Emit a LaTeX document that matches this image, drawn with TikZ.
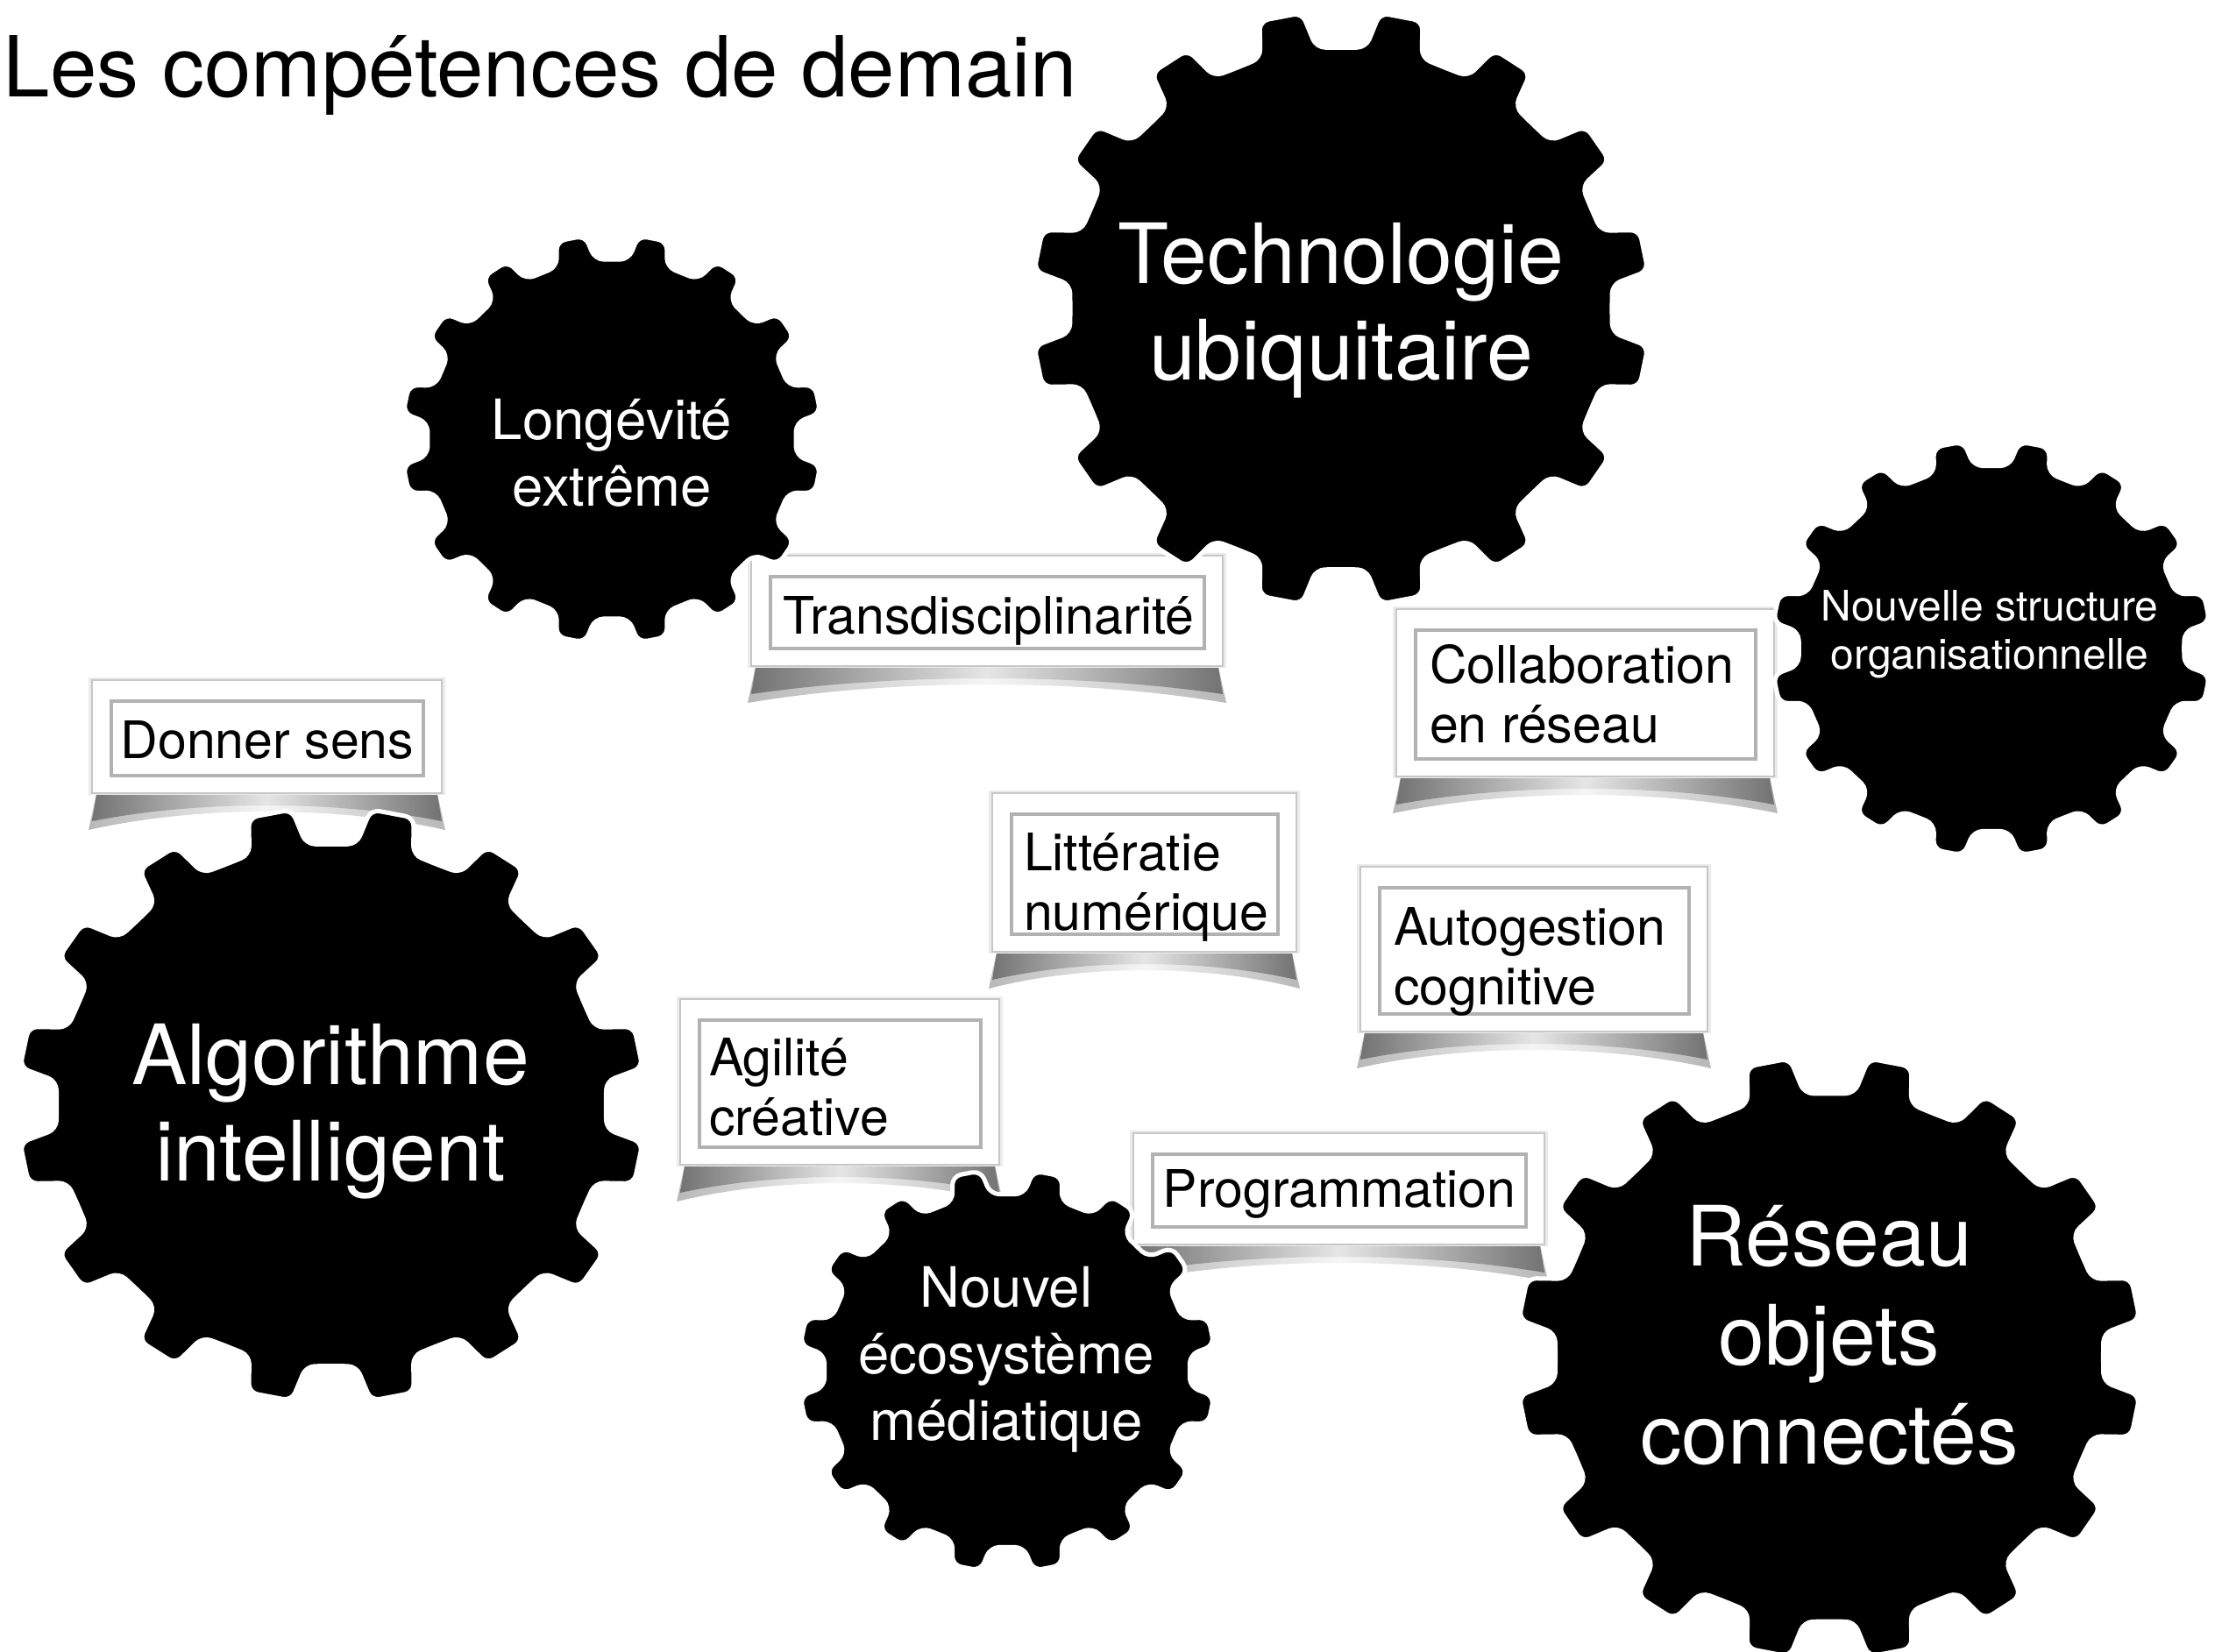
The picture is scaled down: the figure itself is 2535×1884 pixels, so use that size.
\documentclass[tikz,border=0pt]{standalone}
\usepackage{fontspec}
\setmainfont{TeX Gyre Heros}
\newcommand\skillbox[4]{%
  \shade[left color=black!28, right color=black!28, middle color=black!4]
    ({#1+6},{#4-4}) -- ({#1-4},{#4+42}) .. controls ({#1+0.3*(#3-#1)},{#4+14}) and ({#3-0.3*(#3-#1)},{#4+14}) .. ({#3+4},{#4+42}) -- ({#3-6},{#4-4}) -- cycle;
  \shade[left color=black!55, right color=black!55, middle color=black!10]
    ({#1+6},{#4-4}) -- ({#1},{#4+32}) .. controls ({#1+0.3*(#3-#1)},{#4+8}) and ({#3-0.3*(#3-#1)},{#4+8}) .. ({#3},{#4+32}) -- ({#3-6},{#4-4}) -- cycle;
  \fill[black!8] ({#1-4},{#2-3}) rectangle ({#3+4},{#4+2});
  \filldraw[fill=white, draw=black!22, line width=0.5pt] (#1,#2) rectangle (#3,#4);
  \draw[black!30, line width=0.9pt] ({#1+22},{#2+24}) rectangle ({#3-21},{#4-20});
}
\newcommand\drawgear[4]{%
  \fill[gearbody, shift={(#1,#2)}, xscale=#3, yscale=#4]
    (7.25:1) -- (15.25:1) -- (17.25:0.88) -- (22.5:0.875)
    \foreach \k in {1,...,15}{
      -- ({11.25+22.5*\k-6}:0.88)
      -- ({11.25+22.5*\k-4}:1)
      -- ({11.25+22.5*\k+4}:1)
      -- ({11.25+22.5*\k+6}:0.88)
      -- ({22.5+22.5*\k}:0.875)
    } -- (5.25:0.88) -- cycle;
}
\begin{document}
\begin{tikzpicture}[x=0.2pt, y=-0.2pt,
  gearbody/.style={fill=black, draw=white, line width=1pt, rounded corners=2pt},
  geartext/.style={text=white, align=center, anchor=base, inner sep=0pt},
  boxtext/.style={text=black, align=left, anchor=base west, inner sep=0pt, font=\fontsize{11.8pt}{13.6pt}\selectfont},
]
\fill[white] (0,0) rectangle (2535,1884);
\useasboundingbox (0,0) rectangle (2535,1884);

\node[anchor=base west, inner sep=0pt, font=\fontsize{19.2pt}{22pt}\selectfont] (title) at (3,110) {Les compétences de demain};

\skillbox{857}{634}{1395}{760}
\node[boxtext, anchor=base] (trans) at (1128,723) {Transdisciplinarité};
\skillbox{105}{776}{504}{905}
\node[boxtext, anchor=base] (donner) at (305,865) {Donner sens};
\skillbox{1593}{695}{2024}{886}
\node[boxtext] (collab) at (1630,847) {Collaboration\\en réseau};
\skillbox{1132}{905}{1479}{1086}
\node[boxtext] (litt) at (1167,1061) {Littératie\\numérique};
\skillbox{1552}{989}{1948}{1177}
\node[boxtext] (auto) at (1589,1146) {Autogestion\\cognitive};
\skillbox{776}{1140}{1140}{1329}
\node[boxtext] (agil) at (808,1295) {Agilité\\créative};
\skillbox{1293}{1293}{1762}{1420}
\node[boxtext, anchor=base] (prog) at (1528,1377) {Programmation};

\drawgear{1530}{352}{353}{340}
\node[geartext, font=\fontsize{19pt}{22pt}\selectfont] (tech) at (1530,433) {Technologie\\ubiquitaire};
\drawgear{698}{501}{240}{234}
\node[geartext, font=\fontsize{12.7pt}{15.2pt}\selectfont] (longev) at (698,577) {Longévité\\extrême};
\drawgear{2272}{740}{251}{238}
\node[geartext, font=\fontsize{9.6pt}{11pt}\selectfont] (nouvstruct) at (2270,763) {Nouvelle structure\\organisationnelle};
\drawgear{1149}{1564}{238}{230}
\node[geartext, font=\fontsize{12.7pt}{15.2pt}\selectfont] (ecosys) at (1148,1643) {Nouvel\\écosystème\\médiatique};
\drawgear{2087}{1549}{357}{344}
\node[geartext, font=\fontsize{19pt}{22.6pt}\selectfont] (reseau) at (2087,1670) {Réseau\\objets\\connectés};
\drawgear{378}{1261}{358}{340}
\node[geartext, font=\fontsize{19pt}{22pt}\selectfont] (algo) at (377,1347) {Algorithme\\intelligent};
\end{tikzpicture}
\end{document}
